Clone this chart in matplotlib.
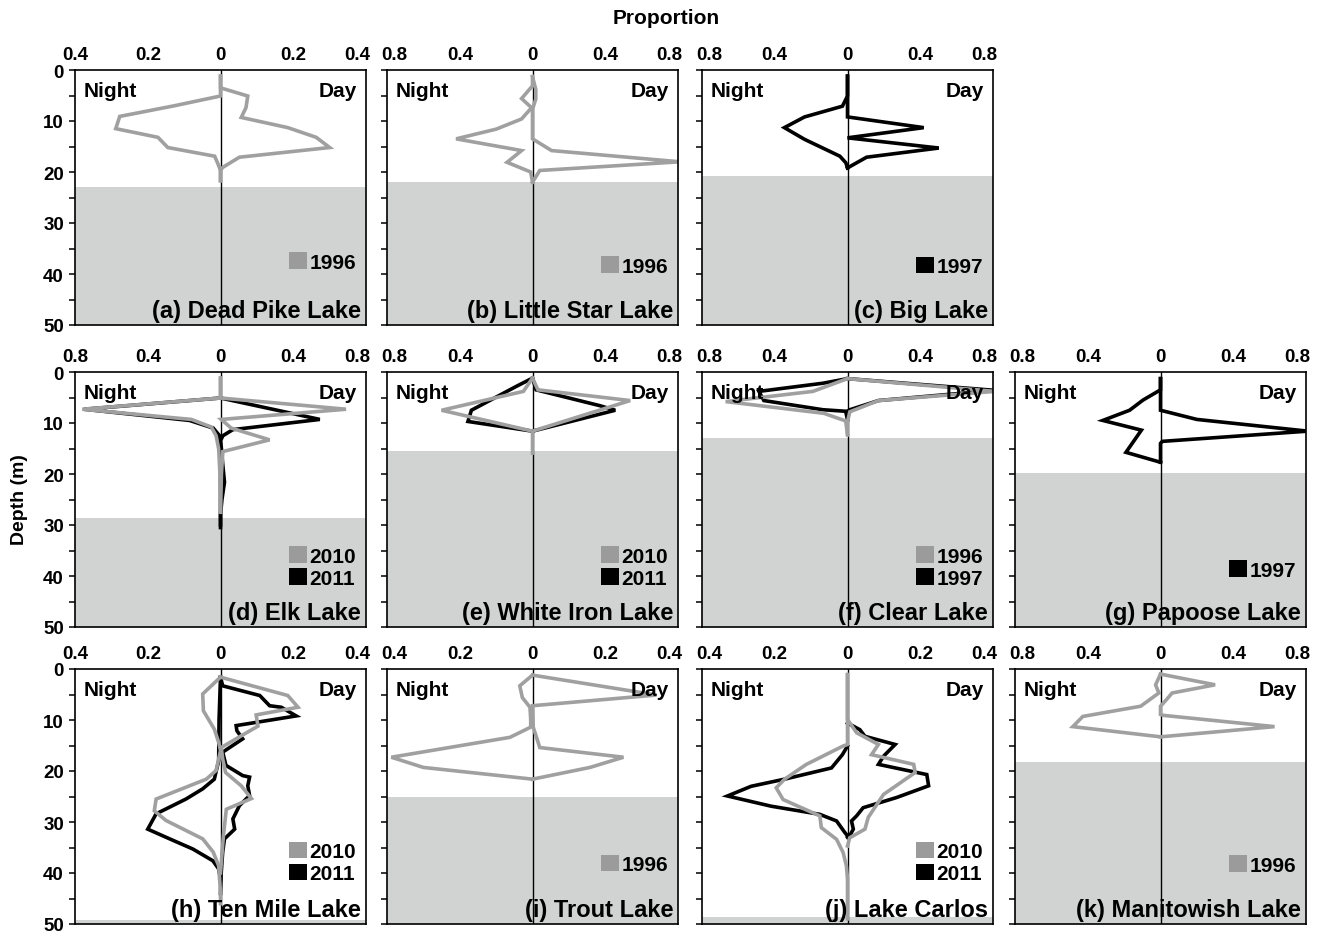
import matplotlib
matplotlib.use("Agg")
import matplotlib.pyplot as plt
from matplotlib.patches import Patch
from matplotlib.ticker import FuncFormatter
from matplotlib.transforms import ScaledTranslation

plt.rcParams['font.family'] = ['Liberation Sans', 'DejaVu Sans']
plt.rcParams['font.weight'] = 'bold'

GRAY = '#a0a0a0'
LEG_GRAY = '#9b9b9b'
BLACK = '#000000'
SHADE = '#d1d3d3'

# ---- data: depth (m) and proportion, night plotted to the left ----
# (a) Dead Pike Lake 1996
a_day_z = [1.2, 3.5, 5.1, 7.4, 9.3, 11.3, 13.2, 15.2, 17.1, 19.1, 19.7, 21.7]
a_day_p = [0, 0, 0.075, 0.07, 0.057, 0.185, 0.263, 0.30, 0.052, 0.006, 0, 0]
a_night_z = [1.2, 5.1, 7.0, 9.1, 11.5, 13.2, 15.2, 16.9, 18.4, 19.7, 21.7]
a_night_p = [0, 0, 0.126, 0.277, 0.288, 0.172, 0.145, 0.016, 0.007, 0, 0]

# (b) Little Star Lake 1996
b_day_z = [1.3, 3.8, 5.7, 7.7, 13.5, 15.8, 18.0, 19.7, 22.0]
b_day_p = [0, 0.018, 0.018, 0, 0, 0.105, 0.81, 0.04, 0]
b_night_z = [1.3, 3.1, 5.6, 7.4, 9.6, 11.6, 13.5, 15.8, 18.1, 20.0, 22.0]
b_night_p = [0, 0, 0.06, 0.005, 0.06, 0.2, 0.42, 0.06, 0.14, 0.01, 0]

# (c) Big Lake 1997
c_night_z = [1.2, 5.1, 7.1, 9.2, 11.3, 13.6, 16.9, 18.2, 19.2]
c_night_p = [0, 0, 0.028, 0.236, 0.347, 0.236, 0.042, 0.009, 0]
c_day_z = [1.2, 9.2, 11.3, 13.3, 15.3, 17.1, 19.2]
c_day_p = [0, 0, 0.419, 0, 0.502, 0.105, 0]

# (d) Elk Lake 2010 / 2011
d10_night_z = [1.2, 5.1, 7.3, 9.3, 10.8, 12.5, 15.1, 20, 27.5]
d10_night_p = [0, 0, 0.76, 0.16, 0.05, 0.024, 0.01, 0.003, 0]
d10_day_z = [1.2, 5.1, 7.3, 9.3, 11.0, 13.3, 15.6, 20, 27.5]
d10_day_p = [0, 0, 0.69, 0.004, 0.059, 0.27, 0.013, 0.005, 0]
d11_night_z = [5.1, 7.3, 9.5, 11.0, 12.5, 14, 30]
d11_night_p = [0, 0.75, 0.17, 0.04, 0.005, 0, 0]
d11_day_z = [5.1, 9.3, 11.3, 12.5, 13.5, 15, 18, 21.6, 25, 28, 30.5]
d11_day_p = [0, 0.546, 0.068, 0.013, 0, 0.005, 0.012, 0.022, 0.008, 0, 0]

# (e) White Iron Lake 2010 / 2011
e10_night_z = [1.2, 3.8, 7.5, 11.6, 15.9]
e10_night_p = [0, 0.05, 0.50, 0, 0]
e10_day_z = [1.2, 3.5, 5.6, 11.6]
e10_day_p = [0, 0.03, 0.537, 0]
e11_night_z = [1.2, 2.8, 7.5, 9.7, 11.6]
e11_night_p = [0, 0.088, 0.336, 0.355, 0]
e11_day_z = [1.2, 3.5, 6.6, 7.5, 11.6]
e11_day_p = [0, 0.02, 0.37, 0.455, 0]

# (f) Clear Lake 1996 / 1997
f96_night_z = [1.3, 3.8, 5.8, 8.1, 9.6, 12.3]
f96_night_p = [0, 0.19, 0.67, 0.13, 0.01, 0]
f96_day_z = [1.3, 3.8, 5.6, 7.8, 9.7, 12.3]
f96_day_p = [0, 0.81, 0.17, 0.013, 0, 0]
f97_night_z = [1.3, 2.2, 3.8, 5.6, 7.4, 7.7, 9.4]
f97_night_p = [0, 0.135, 0.487, 0.46, 0.135, 0.01, 0]
f97_day_z = [1.3, 3.6, 5.6, 7.4, 7.7]
f97_day_p = [0, 0.81, 0.17, 0.013, 0]

# (g) Papoose Lake 1997
g_night_z = [1.3, 3.5, 5.5, 7.5, 9.5, 11.4, 15.75, 17.7]
g_night_p = [0, 0, 0.096, 0.17, 0.317, 0.105, 0.19, 0]
g_day_z = [1.3, 7.5, 9.3, 11.6, 13.6, 14.0, 17.7]
g_day_p = [0, 0, 0.2, 0.81, 0.01, 0, 0]

# (h) Ten Mile Lake 2010 / 2011
h10_night_z = [1.6, 4.9, 8.2, 11.8, 14.4, 16.0, 19.9, 21.6, 25.5, 27.8, 29.7,
               33.3, 35.9, 38.6, 43.8, 46]
h10_night_p = [0, 0.049, 0.047, 0.017, 0.005, 0, 0.012, 0.039, 0.177, 0.182,
               0.15, 0.049, 0.02, 0.005, 0, 0]
h10_day_z = [1.6, 5.2, 7.5, 9.0, 11.2, 13.1, 15.4, 17.6, 20.3, 22.9, 25.4,
             27.5, 32.7, 40]
h10_day_p = [0, 0.185, 0.213, 0.098, 0.103, 0.057, 0.002, 0.006, 0.014, 0.057,
             0.085, 0.016, 0.008, 0]
h11_night_z = [1.6, 10, 18, 21.6, 23.5, 25.5, 28.4, 31.4, 33.3, 35.3, 37.6,
               39.2, 41.2]
h11_night_p = [0, 0.004, 0.005, 0.017, 0.049, 0.095, 0.177, 0.2, 0.14, 0.076,
               0.021, 0.005, 0]
h11_day_z = [1.6, 3.3, 5.2, 7.2, 7.5, 9.2, 11.1, 12.1, 13.7, 16.3, 18.9, 20.9,
             21.2, 22.9, 24.8, 26.8, 29.4, 31.4, 33.3, 35.9, 39.9, 44]
h11_day_p = [0, 0.006, 0.108, 0.135, 0.167, 0.208, 0.043, 0.045, 0.061, 0.006,
             0.015, 0.061, 0.08, 0.075, 0.08, 0.052, 0.034, 0.039, 0.011,
             0.006, 0.002, 0]

# (i) Trout Lake 1996
i_night_z = [1.2, 3.3, 5.6, 7.5, 9.8, 11.4, 13.4, 17.3, 19.3, 21.6]
i_night_p = [0, 0.035, 0.028, 0.007, 0.005, 0.005, 0.062, 0.388, 0.30, 0]
i_day_z = [1.2, 5.1, 7.2, 11.4, 15.4, 17.3, 19.3, 21.6]
i_day_p = [0, 0.341, 0, 0.002, 0.02, 0.25, 0.158, 0]

# (j) Lake Carlos 2010 / 2011
j10_night_z = [1.1, 14.8, 15.1, 18.7, 21.6, 23.3, 25.6, 28.8, 31.1, 33.4, 36.0,
               38.6, 41.2, 49]
j10_night_p = [0, 0, 0.012, 0.113, 0.173, 0.196, 0.177, 0.076, 0.072, 0.03,
               0.012, 0.003, 0, 0]
j10_day_z = [1.1, 9.9, 12.5, 14.8, 16.8, 18.7, 20.3, 24.6, 29.1, 31.4, 33.1, 34.7]
j10_day_p = [0, 0, 0.025, 0.085, 0.066, 0.182, 0.186, 0.099, 0.057, 0.048,
             0.006, 0]
j11_night_z = [15.1, 16.8, 19.4, 21.6, 23.0, 24.9, 26.9, 28.5, 29.8, 32.1, 32.7]
j11_night_p = [0, 0.014, 0.044, 0.173, 0.265, 0.33, 0.21, 0.076, 0.03, 0.007, 0]
j11_day_z = [10.6, 11.9, 13.2, 14.8, 17.1, 18.7, 20.7, 22.9, 25.2, 27.2, 28.8,
             29.8, 31.4, 32.7, 33.0]
j11_day_p = [0, 0.034, 0.048, 0.131, 0.099, 0.085, 0.218, 0.223, 0.135, 0.043,
             0.025, 0.011, 0.016, 0.006, 0]

# (k) Manitowish Lake 1996
k_day_z = [1.0, 3.1, 4.7, 6.0, 7.3, 8.9, 9.1, 11.3, 13.3]
k_day_p = [0, 0.30, 0.064, 0.033, 0, 0, 0.018, 0.627, 0]
k_night_z = [1.0, 3.1, 4.7, 7.3, 9.3, 11.3, 13.3]
k_night_p = [0, 0.027, 0.009, 0.109, 0.427, 0.482, 0]

# panel settings: label, grid position, x-limit, shaded depth, legend y, series
panels = [
    ('(a) Dead Pike Lake', 0, 0, 0.4, 23.0, 0.248,
     [('1996', GRAY, a_night_z, a_night_p, a_day_z, a_day_p)]),
    ('(b) Little Star Lake', 0, 1, 0.8, 21.9, 0.232,
     [('1996', GRAY, b_night_z, b_night_p, b_day_z, b_day_p)]),
    ('(c) Big Lake', 0, 2, 0.8, 20.7, 0.23,
     [('1997', BLACK, c_night_z, c_night_p, c_day_z, c_day_p)]),
    ('(d) Elk Lake', 1, 0, 0.8, 28.7, 0.236,
     [('2011', BLACK, d11_night_z, d11_night_p, d11_day_z, d11_day_p),
      ('2010', GRAY, d10_night_z, d10_night_p, d10_day_z, d10_day_p)]),
    ('(e) White Iron Lake', 1, 1, 0.8, 15.4, 0.236,
     [('2011', BLACK, e11_night_z, e11_night_p, e11_day_z, e11_day_p),
      ('2010', GRAY, e10_night_z, e10_night_p, e10_day_z, e10_day_p)]),
    ('(f) Clear Lake', 1, 2, 0.8, 13.0, 0.236,
     [('1997', BLACK, f97_night_z, f97_night_p, f97_day_z, f97_day_p),
      ('1996', GRAY, f96_night_z, f96_night_p, f96_day_z, f96_day_p)]),
    ('(g) Papoose Lake', 1, 3, 0.8, 19.9, 0.224,
     [('1997', BLACK, g_night_z, g_night_p, g_day_z, g_day_p)]),
    ('(h) Ten Mile Lake', 2, 0, 0.4, 49.3, 0.241,
     [('2011', BLACK, h11_night_z, h11_night_p, h11_day_z, h11_day_p),
      ('2010', GRAY, h10_night_z, h10_night_p, h10_day_z, h10_day_p)]),
    ('(i) Trout Lake', 2, 1, 0.4, 25.1, 0.233,
     [('1996', GRAY, i_night_z, i_night_p, i_day_z, i_day_p)]),
    ('(j) Lake Carlos', 2, 2, 0.4, 48.6, 0.241,
     [('2011', BLACK, j11_night_z, j11_night_p, j11_day_z, j11_day_p),
      ('2010', GRAY, j10_night_z, j10_night_p, j10_day_z, j10_day_p)]),
    ('(k) Manitowish Lake', 2, 3, 0.8, 18.2, 0.231,
     [('1996', GRAY, k_night_z, k_night_p, k_day_z, k_day_p)]),
]

W, H = 1320, 937
col_left = [75, 387, 702, 1015]
row_top = [71, 373, 670]
ax_w, ax_h = 291, 255

fig = plt.figure(figsize=(W / 100, H / 100), dpi=100)
fmt = FuncFormatter(lambda v, p: '0' if abs(v) < 1e-9 else f'{abs(v):g}')

for name, r, c, lim, shade, leg_y, series in panels:
    ax = fig.add_axes([col_left[c] / W, 1 - (row_top[r] + ax_h) / H, ax_w / W, ax_h / H])
    ax.axhspan(shade, 50, color=SHADE, lw=0, zorder=0)
    ax.axvline(0, color='black', lw=1.0, zorder=1)
    for year, col, nz, npv, dz, dp in series:
        ax.plot([-v for v in npv], nz, color=col, lw=2.6, solid_joinstyle='miter', zorder=2)
        ax.plot(dp, dz, color=col, lw=2.6, solid_joinstyle='miter', zorder=2)
    ax.set_xlim(-lim, lim)
    ax.set_ylim(50, 0)
    ax.xaxis.tick_top()
    ax.set_xticks([-lim, -lim / 2, 0, lim / 2, lim])
    ax.xaxis.set_major_formatter(fmt)
    ax.tick_params(axis='x', length=0, pad=5, labelsize=13.5)
    ax.set_yticks(range(0, 51, 5))
    if c == 0:
        ax.set_yticklabels([str(v) if v % 10 == 0 else '' for v in range(0, 51, 5)])
    else:
        ax.set_yticklabels([])
    ax.tick_params(axis='y', direction='out', length=4, width=1.1, pad=4, labelsize=13.5)
    for s in ax.spines.values():
        s.set_linewidth(1.2)

    # outer x labels sit a little inside the frame, as in the original
    xlabels = ax.get_xticklabels()
    if c > 0:
        xlabels[0].set_transform(xlabels[0].get_transform()
                                 + ScaledTranslation(7 / 100, 0, fig.dpi_scale_trans))
    xlabels[-1].set_transform(xlabels[-1].get_transform()
                              + ScaledTranslation(-9 / 100, 0, fig.dpi_scale_trans))

    ax.text(0.031, 0.918, 'Night', transform=ax.transAxes, ha='left', va='center',
            fontsize=15, zorder=3)
    ax.text(0.97, 0.918, 'Day', transform=ax.transAxes, ha='right', va='center',
            fontsize=15, zorder=3)
    ax.text(0.983, 0.058, name, transform=ax.transAxes, ha='right', va='center',
            fontsize=17, zorder=3)

    handles = [Patch(facecolor=(LEG_GRAY if col == GRAY else col), edgecolor='none', label=year)
               for year, col, *_ in sorted(series, key=lambda s: s[0])]
    ax.legend(handles=handles, loc='center right', bbox_to_anchor=(0.965, leg_y),
              frameon=False, handlelength=0.85, handleheight=0.85, handletextpad=0.12,
              labelspacing=0.12, borderpad=0, borderaxespad=0,
              prop={'size': 15, 'weight': 'bold'})

fig.text(666 / W, 1 - 18 / H, 'Proportion', ha='center', va='center', fontsize=15)
fig.text(20 / W, 1 - 500 / H, 'Depth (m)', ha='center', va='center', rotation=90, fontsize=14)

fig.savefig('out.png', dpi=100)
